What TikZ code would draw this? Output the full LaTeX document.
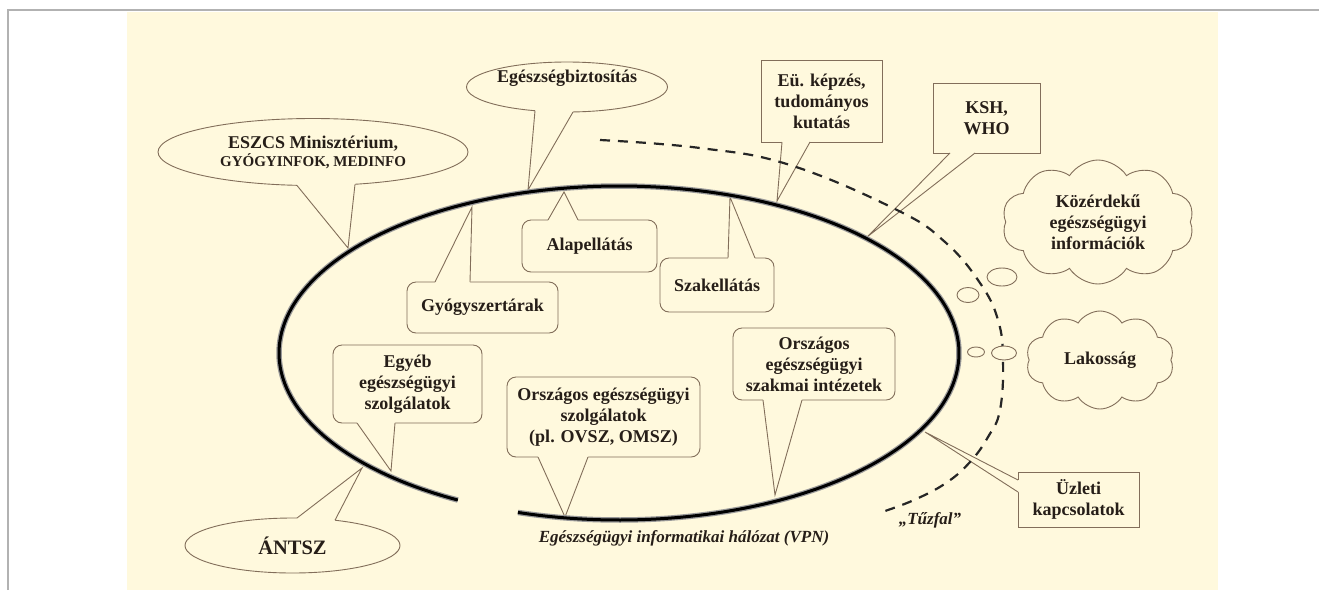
\documentclass[tikz,border=0pt]{standalone}
\usepackage{fontspec}
\setmainfont{Liberation Serif}
\usetikzlibrary{shapes.geometric,shapes.symbols,calc}
\definecolor{bgc}{RGB}{255,249,221}
\definecolor{edgec}{RGB}{130,110,90}
\definecolor{txtc}{RGB}{38,30,24}
\definecolor{framec}{RGB}{178,178,178}
\newcommand{\calloutptr}[4]{%
  \fill[bgc] (#1) -- (#3) -- (#2) -- ($(#2)+(#4)$) -- ($(#1)+(#4)$) -- cycle;
  \draw[ptrline] (#1) -- (#3) -- (#2);}
\begin{document}
\begin{tikzpicture}[x=1pt,y=-1pt,
  cbase/.style={draw=edgec, line width=0.9pt, fill=bgc, text=txtc,
    font=\bfseries\fontsize{18}{21}\selectfont, align=center, inner sep=0pt},
  sqbox/.style={cbase, rectangle},
  rbox/.style={cbase, rectangle, rounded corners=9pt},
  ebox/.style={cbase, ellipse},
  cbox/.style={cbase, cloud, cloud puffs=10, cloud puff arc=115, aspect=1.55},
  bubble/.style={draw=edgec, line width=0.9pt, fill=bgc, ellipse, inner sep=0pt},
  ptrline/.style={draw=edgec, line width=0.9pt, line join=miter},
  tbold/.style={text=txtc, font=\bfseries\fontsize{18}{21}\selectfont, inner sep=0pt},
  lbl/.style={text=txtc, font=\bfseries\itshape\fontsize{17}{20}\selectfont, inner sep=0pt},
  firewall/.style={line width=2.2pt, dash pattern=on 10pt off 8pt, black!85},
]
\useasboundingbox (0,0) rectangle (1319,590);
% background and frame
\fill[bgc] (127,12) rectangle (1218,590);
\draw[framec, line width=2pt] (8,590) -- (8,9.5) -- (1319,9.5);

% callout bodies
\node[ebox, minimum width=310, minimum height=67] (eszcs) at (313,152)
  {ESZCS Minisztérium,\\[-3pt]{\fontsize{15}{17}\selectfont GYÓGYINFOK, MEDINFO}};
\node[ebox, minimum width=201, minimum height=50] (egb) at (567,87) {};
\node[tbold] (egbt) at (567,78) {Egészségbiztosítás};
\node[rbox, minimum width=135, minimum height=52] (alap) at (589.5,246) {Alapellátás};
\node[rbox, minimum width=151, minimum height=51] (gyo) at (482.5,307.5) {Gyógyszertárak};
\node[rbox, minimum width=114, minimum height=54] (szak) at (717,285) {Szakellátás};
\node[sqbox, minimum width=121, minimum height=82] (eu) at (821.5,101) {Eü. képzés,\\tudományos\\kutatás};
\node[sqbox, minimum width=107, minimum height=70] (ksh) at (986.5,118) {KSH,\\WHO};
\node[rbox, minimum width=149, minimum height=78] (egy) at (407.5,384) {Egyéb\\egészségügyi\\szolgálatok};
\node[rbox, minimum width=193, minimum height=80] (szolg) at (603.5,417) {Országos egészségügyi\\szolgálatok\\(pl. OVSZ, OMSZ)};
\node[rbox, minimum width=162, minimum height=72] (szakm) at (814,364) {Országos\\egészségügyi\\szakmai intézetek};
\node[ebox, minimum width=215, minimum height=55] (antsz) at (292.5,545.5) {\fontsize{20.5}{24}\selectfont ÁNTSZ};
\node[sqbox, minimum width=121, minimum height=55] (uz) at (1078.5,499.5) {Üzleti\\kapcsolatok};

% pointer coordinates
\coordinate (tESZ) at (348,248);  \coordinate (eszB1) at (297,185.5); \coordinate (eszB2) at (355,184.3);
\coordinate (tEGB) at (528,190);  \coordinate (egbB1) at (535,110.7); \coordinate (egbB2) at (573,112);
\coordinate (tALA) at (564,192);  \coordinate (alaB1) at (548,220);   \coordinate (alaB2) at (578,220);
\coordinate (tGYO) at (472,207);  \coordinate (gyoB1) at (435,282);   \coordinate (gyoB2) at (470,282);
\coordinate (tSZA) at (730,197);  \coordinate (szaB1) at (728,258);   \coordinate (szaB2) at (755,258);
\coordinate (tEU)  at (777,201);  \coordinate (euB1)  at (782,142);   \coordinate (euB2)  at (810,142);
\coordinate (tKSH) at (867,237);  \coordinate (kshB1) at (950,153);   \coordinate (kshB2) at (975,153);
\coordinate (tEGY) at (391,471);  \coordinate (egyB1) at (357,423);   \coordinate (egyB2) at (395,423);
\coordinate (tSZO) at (565,517);  \coordinate (szoB1) at (538,457);   \coordinate (szoB2) at (588,457);
\coordinate (tSZM) at (775,495);  \coordinate (szmB1) at (763,400);   \coordinate (szmB2) at (802,400);
\coordinate (tANT) at (362,468);  \coordinate (antB1) at (297,518);   \coordinate (antB2) at (335,520.2);
\coordinate (tUZ)  at (925,432);  \coordinate (uzB1)  at (1018,480);  \coordinate (uzB2)  at (1018,492);

\calloutptr{eszB1}{eszB2}{tESZ}{0,-3}
\calloutptr{egbB1}{egbB2}{tEGB}{0,-3}
\calloutptr{alaB1}{alaB2}{tALA}{0,3}
\calloutptr{gyoB1}{gyoB2}{tGYO}{0,3}
\calloutptr{szaB1}{szaB2}{tSZA}{0,3}
\calloutptr{euB1}{euB2}{tEU}{0,-3}
\calloutptr{kshB1}{kshB2}{tKSH}{0,-3}
\calloutptr{egyB1}{egyB2}{tEGY}{0,-3}
\calloutptr{szoB1}{szoB2}{tSZO}{0,-3}
\calloutptr{szmB1}{szmB2}{tSZM}{0,-3}
\calloutptr{antB1}{antB2}{tANT}{0,3}
\calloutptr{uzB1}{uzB2}{tUZ}{3,0}

% firewall dashed curve
\draw[firewall] plot[smooth, tension=0.7] coordinates {(600,140) (700,148) (790,165) (897,210) (945,242) (980,283) (998,320) (1003,360) (1000,410) (988,437) (970,462) (946,483) (914,500) (882,512)};

% network ellipse (open at bottom left)
\draw[line width=5.5pt, black!40] plot[domain=107.3:-241.7, samples=240] ({619+340*cos(\x)},{353+167*sin(\x)});
\draw[line width=3pt, black] plot[domain=107.3:-241.7, samples=240] ({619+340*cos(\x)},{353+167*sin(\x)});

% thought bubbles and clouds
\node[bubble, minimum width=30, minimum height=18] (kb1) at (1002,277) {};
\node[bubble, minimum width=22, minimum height=15] (kb2) at (968,295) {};
\node[bubble, minimum width=17, minimum height=10] (lb1) at (976,352) {};
\node[bubble, minimum width=25, minimum height=14] (lb2) at (1004,353) {};
\node[cbox, minimum width=192, minimum height=124] (koz) at (1098,222) {Közérdekű\\egészségügyi\\információk};
\node[cbox, minimum width=148, minimum height=98] (lak) at (1100,360) {Lakosság};

% captions
\node[lbl] (vpn) at (684,538) {Egészségügyi informatikai hálózat (VPN)};
\node[lbl] (tuz) at (930,520) {„Tűzfal”};
\end{tikzpicture}
\end{document}
